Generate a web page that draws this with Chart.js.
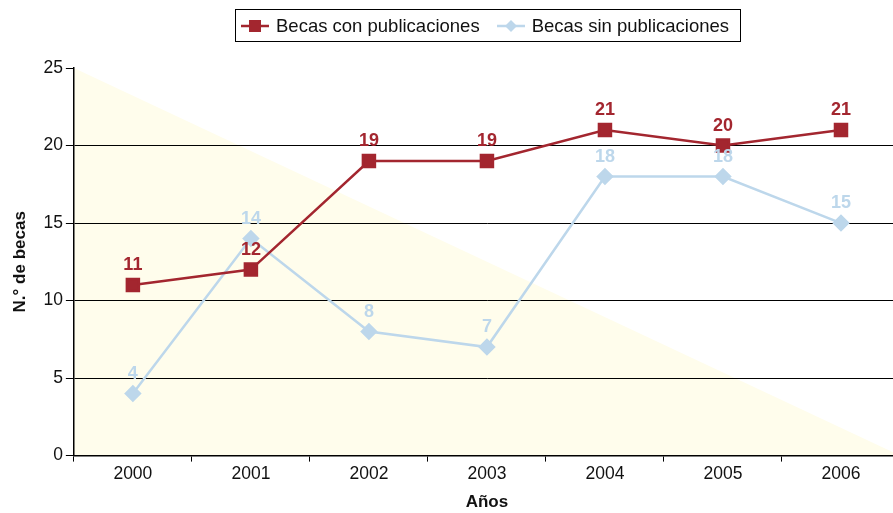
<!DOCTYPE html>
<html>
<head>
<meta charset="utf-8">
<script src="https://cdn.jsdelivr.net/npm/chart.js@4/dist/chart.umd.min.js"></script>
<style>
  html, body { margin: 0; padding: 0; background: #fff; overflow: hidden; }
  #wrap { position: relative; width: 893px; height: 513px; overflow: hidden; }
  #legend {
    position: absolute; left: 235px; top: 9px; width: 506px; height: 33px;
    border: 1.5px solid #000; box-sizing: border-box;
    font-family: "Liberation Sans", Arial, sans-serif; font-size: 18.5px; color: #111;
    display: flex; align-items: center; padding-left: 4px;
  }
  .item { display: flex; align-items: center; margin-right: 16px; white-space: nowrap; }
  .item canvas { margin-right: 6px; }
</style>
</head>
<body>
<div id="wrap">
  <!-- the plot runs a little past the right edge of the picture, as in the original -->
  <canvas id="chart" width="911" height="513"></canvas>
  <div id="legend">
    <div class="item"><canvas id="lg1" width="30" height="16"></canvas>Becas con publicaciones</div>
    <div class="item"><canvas id="lg2" width="30" height="16"></canvas>Becas sin publicaciones</div>
  </div>
</div>
<script>
const years = ['2000', '2001', '2002', '2003', '2004', '2005', '2006'];
const conPublicaciones = [11, 12, 19, 19, 21, 20, 21];
const sinPublicaciones = [4, 14, 8, 7, 18, 18, 15];
const yTicks = [0, 5, 10, 15, 20, 25];

const red = '#a3262f';
const blue = '#bdd7eb';
const fontFamily = '"Liberation Sans", Arial, sans-serif';

// legend icons
function drawIcon(id, color, diamond) {
    const c = document.getElementById(id).getContext('2d');
    c.strokeStyle = color;
    c.lineWidth = 2.5;
    c.beginPath(); c.moveTo(1, 8); c.lineTo(29, 8); c.stroke();
    c.fillStyle = color;
    if (diamond) {
        c.beginPath(); c.moveTo(15, 2); c.lineTo(21, 8); c.lineTo(15, 14); c.lineTo(9, 8); c.closePath(); c.fill();
    } else {
        c.fillRect(9, 2, 12, 12);
    }
}
drawIcon('lg1', red, false);
drawIcon('lg2', blue, true);

// pale triangle behind the plot
const bgTriangle = {
    id: 'bgTriangle',
    beforeDraw(chart) {
        const {ctx, chartArea: a} = chart;
        ctx.save();
        ctx.fillStyle = 'rgb(255,253,236)';
        ctx.beginPath();
        ctx.moveTo(a.left, a.top);
        ctx.lineTo(a.right, a.bottom);
        ctx.lineTo(a.left, a.bottom);
        ctx.closePath();
        ctx.fill();
        ctx.restore();
    }
};

// value labels above the points
const valueLabels = {
    id: 'valueLabels',
    afterDatasetsDraw(chart) {
        const ctx = chart.ctx;
        ctx.save();
        ctx.font = 'bold 18px ' + fontFamily;
        ctx.textAlign = 'center';
        ctx.textBaseline = 'alphabetic';
        chart.data.datasets.forEach((ds, i) => {
            ctx.fillStyle = ds.borderColor;
            chart.getDatasetMeta(i).data.forEach((pt, j) => {
                ctx.fillText(ds.data[j], pt.x, pt.y - 15);
            });
        });
        ctx.restore();
    }
};

const ctx = document.getElementById('chart').getContext('2d');
const chart = new Chart(ctx, {
    type: 'line',
    data: {
        labels: years,
        datasets: [
            {
                label: 'Becas con publicaciones',
                data: conPublicaciones,
                borderColor: red,
                backgroundColor: red,
                borderWidth: 2.5,
                pointStyle: 'rect',
                pointRadius: 8.5,
                pointHoverRadius: 8.5,
                tension: 0
            },
            {
                label: 'Becas sin publicaciones',
                data: sinPublicaciones,
                borderColor: blue,
                backgroundColor: blue,
                borderWidth: 2.5,
                pointStyle: 'rectRot',
                pointRadius: 7,
                pointHoverRadius: 7,
                tension: 0
            }
        ]
    },
    options: {
        responsive: false,
        animation: false,
        layout: { padding: { top: 68, right: 0, left: 6, bottom: 0 } },
        plugins: {
            legend: { display: false },
            tooltip: { enabled: false }
        },
        scales: {
            x: {
                offset: true,
                grid: {
                    offset: true,
                    drawOnChartArea: false,
                    tickLength: 6,
                    tickColor: '#000'
                },
                border: { color: '#000', width: 1.5 },
                ticks: { color: '#111', font: { family: fontFamily, size: 17.5 }, padding: 2 },
                title: {
                    display: true, text: 'Años', color: '#111',
                    font: { family: fontFamily, size: 17, weight: 'bold' }, padding: { top: 6, bottom: 0 }
                }
            },
            y: {
                min: 0,
                max: 25,
                afterBuildTicks: axis => { axis.ticks = yTicks.map(v => ({value: v})); },
                grid: {
                    color: c => (c.tick && c.tick.value === 25) ? 'rgba(0,0,0,0)' : '#000',
                    lineWidth: 1,
                    tickLength: 8,
                    tickColor: '#000'
                },
                border: { color: '#000', width: 1.5 },
                ticks: { color: '#111', font: { family: fontFamily, size: 17.5 }, padding: 3 },
                title: {
                    display: true, text: 'N.° de becas', color: '#111',
                    font: { family: fontFamily, size: 17, weight: 'bold' }, padding: { bottom: 10 }
                }
            }
        }
    },
    plugins: [bgTriangle, valueLabels]
});
</script>
</body>
</html>
